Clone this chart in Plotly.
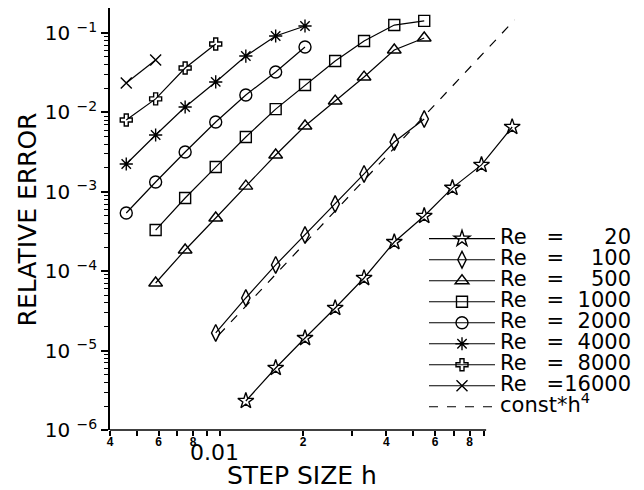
import plotly.graph_objects as go

FONT = "DejaVu Sans"

# step sizes h and relative errors
h_re20 = [0.0124, 0.0159, 0.0203, 0.0261, 0.0332, 0.0427, 0.0548, 0.0693, 0.0883, 0.114]
err_re20 = [2.32e-6, 6.04e-6, 1.44e-5, 3.44e-5, 8.21e-5, 2.33e-4, 4.96e-4, 1.12e-3, 2.18e-3, 6.55e-3]

h_re100 = [0.00965, 0.0124, 0.0159, 0.0203, 0.0261, 0.0332, 0.0427, 0.0548]
err_re100 = [1.67e-5, 4.60e-5, 1.20e-4, 2.86e-4, 7.02e-4, 1.68e-3, 4.24e-3, 8.26e-3]

h_re500 = [0.00585, 0.00748, 0.00965, 0.0124, 0.0159, 0.0203, 0.0261, 0.0332, 0.0427, 0.0548]
err_re500 = [7.10e-5, 1.85e-4, 4.68e-4, 1.18e-3, 2.91e-3, 6.74e-3, 1.39e-2, 2.79e-2, 6.11e-2, 8.65e-2]

h_re1000 = [0.00585, 0.00748, 0.00965, 0.0124, 0.0159, 0.0203, 0.0261, 0.0332, 0.0427, 0.0548]
err_re1000 = [3.30e-4, 8.35e-4, 2.05e-3, 4.90e-3, 1.10e-2, 2.21e-2, 4.44e-2, 7.93e-2, 0.126, 0.142]

h_re2000 = [0.00458, 0.00585, 0.00748, 0.00965, 0.0124, 0.0159, 0.0203]
err_re2000 = [5.41e-4, 1.33e-3, 3.17e-3, 7.57e-3, 1.66e-2, 3.23e-2, 6.66e-2]

h_re4000 = [0.00458, 0.00585, 0.00748, 0.00965, 0.0124, 0.0159, 0.0203]
err_re4000 = [2.24e-3, 5.19e-3, 1.17e-2, 2.42e-2, 5.13e-2, 9.17e-2, 0.1225]

h_re8000 = [0.00458, 0.00585, 0.00748, 0.00965]
err_re8000 = [8.02e-3, 1.48e-2, 3.62e-2, 7.27e-2]

h_re16000 = [0.00458, 0.00585]
err_re16000 = [2.35e-2, 4.57e-2]

h_ref = [0.00989, 0.1162]
err_ref = [1.57e-5, 0.1458]

series = [
    ("20", h_re20, err_re20, "star-open", 12),
    ("100", h_re100, err_re100, "diamond-tall-open", 12),
    ("500", h_re500, err_re500, "triangle-up-open", 12),
    ("1000", h_re1000, err_re1000, "square-open", 11),
    ("2000", h_re2000, err_re2000, "circle-open", 12),
    ("4000", h_re4000, err_re4000, "asterisk-open", 11),
    ("8000", h_re8000, err_re8000, "cross-open", 10),
    ("16000", h_re16000, err_re16000, "x-thin-open", 11),
]

y_tickvals = [1e-6, 1e-5, 1e-4, 1e-3, 1e-2, 1e-1]
y_ticktext = ["10\u00a0<sup>\u2212%d</sup>" % k for k in [6, 5, 4, 3, 2, 1]]
y_minor = [m * 10.0 ** k for k in range(-6, -1) for m in range(2, 10)]

x_tickvals = [0.004, 0.006, 0.008, 0.01, 0.02, 0.04, 0.06, 0.08]
x_ticktext = ["4", "6", "8", "", "2", "4", "6", "8"]
x_minor = [0.005, 0.007, 0.009, 0.03, 0.05, 0.07, 0.09]

FS = "\u2007"  # figure space
NB = "\u00a0"

def label(re):
    return ('<span style="font-size:21px">Re' + NB * 3 + "=" + FS * (5 - len(re)) + re + "</span>")

fig = go.Figure()
for re, hx, ey, sym, sz in series:
    fig.add_trace(go.Scatter(
        x=hx, y=ey, mode="lines+markers", name=label(re),
        line=dict(color="black", width=1.2),
        marker=dict(symbol=sym, size=sz, color="black", line=dict(color="black", width=1.4)),
    ))

fig.add_trace(go.Scatter(
    x=h_ref, y=err_ref, mode="lines",
    name='<span style="font-size:21px">const*h<sup>4</sup></span>',
    line=dict(color="black", width=1.2, dash="dash"),
))

fig.update_layout(
    width=644, height=490,
    margin=dict(l=110, r=104, t=8, b=60),
    paper_bgcolor="white", plot_bgcolor="white",
    font=dict(family=FONT, color="black", size=20),
    showlegend=True,
    legend=dict(
        x=0.753, y=0.49, xanchor="left", yanchor="top",
        bgcolor="rgba(0,0,0,0)", borderwidth=0,
        font=dict(family=FONT, size=13.85, color="black"),
        itemwidth=66, tracegroupgap=0,
    ),
    xaxis=dict(
        type="log", range=[-2.39794, -0.8894],
        showline=False, showgrid=False, zeroline=False,
        tickmode="array", tickvals=x_tickvals, ticktext=x_ticktext,
        ticks="outside", ticklen=5, tickwidth=1.5, tickcolor="black",
        ticklabelstandoff=-4,
        tickfont=dict(family="Liberation Sans", size=12, weight="bold"),
        minor=dict(tickmode="array", tickvals=x_minor, ticks="outside", ticklen=5,
                   tickwidth=1.5, tickcolor="black", showgrid=False),
    ),
    yaxis=dict(
        type="log", range=[-6, -0.685],
        showline=True, linecolor="black", linewidth=1.5,
        showgrid=False, zeroline=False,
        tickmode="array", tickvals=y_tickvals, ticktext=y_ticktext,
        ticks="outside", ticklen=7, tickwidth=1.5, tickcolor="black",
        tickfont=dict(family=FONT, size=20),
        minor=dict(tickmode="array", tickvals=y_minor, ticks="outside", ticklen=4,
                   tickwidth=1.2, tickcolor="black", showgrid=False),
    ),
    shapes=[dict(type="line", xref="paper", yref="paper", x0=0, x1=0.902, y0=0, y1=0,
                 line=dict(color="black", width=1.5))],
    annotations=[
        dict(text="RELATIVE ERROR", xref="paper", yref="paper", x=-0.198, y=0.5,
             textangle=-90, showarrow=False, font=dict(family=FONT, size=25),
             xanchor="center", yanchor="middle"),
        dict(text="STEP SIZE h", xref="paper", yref="paper", x=0.4605, y=-0.109,
             showarrow=False, font=dict(family=FONT, size=25),
             xanchor="center", yanchor="middle"),
        dict(text="0.01", xref="paper", yref="paper", x=0.2512, y=-0.0545,
             showarrow=False, font=dict(family=FONT, size=22),
             xanchor="center", yanchor="middle"),
    ],
)

fig.write_html("out.html")
